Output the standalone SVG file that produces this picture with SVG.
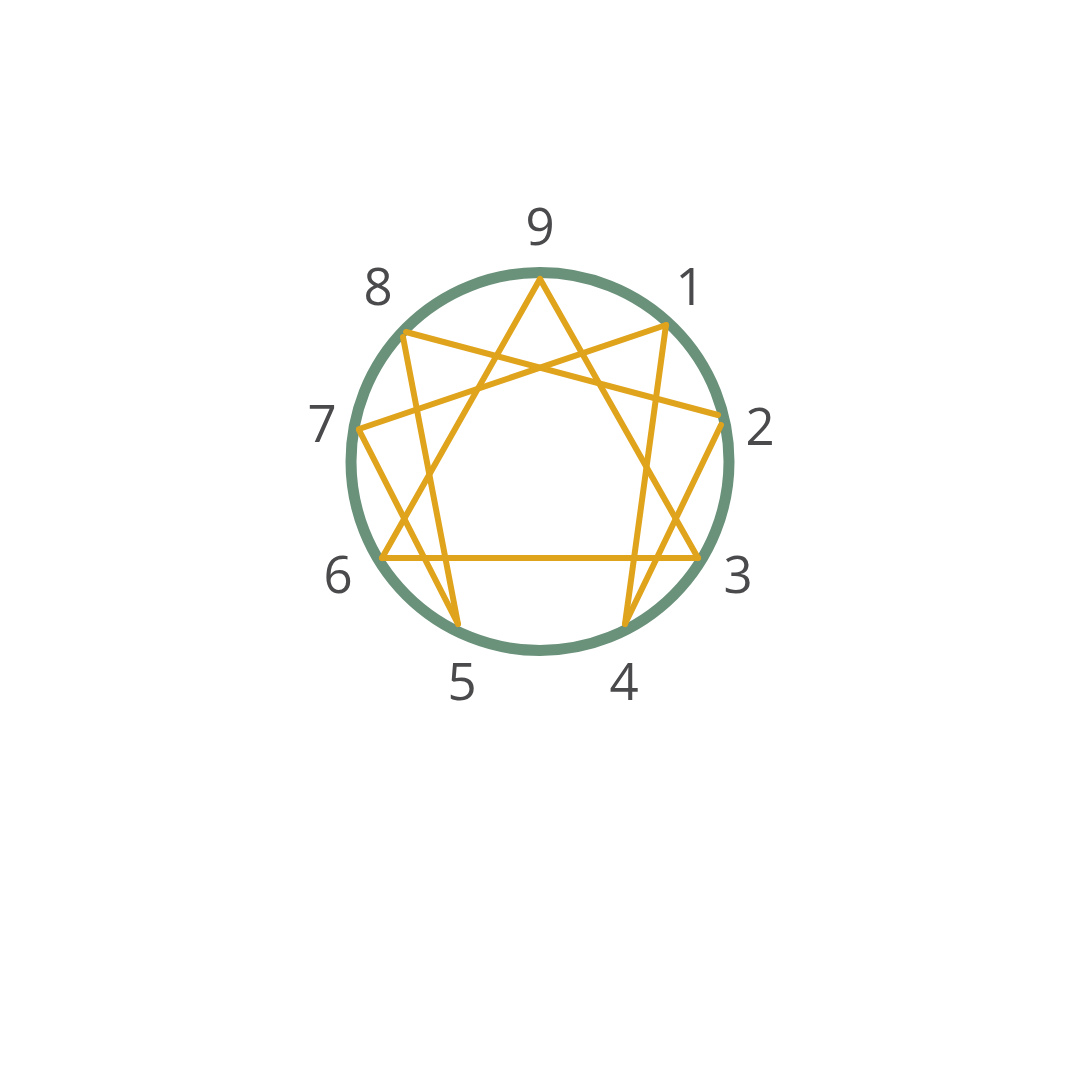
<svg xmlns="http://www.w3.org/2000/svg" width="1080" height="1080" viewBox="0 0 1080 1080">
<style>
.lbl{font-family:"Open Sans","Noto Sans","Liberation Sans",sans-serif;font-size:51px;fill:#4a4a4c;text-anchor:middle}
.ln{stroke:#e0a31c;stroke-width:6;stroke-linecap:round;fill:none}
.ring{stroke:#6a917a;stroke-width:11;fill:none}
</style>
<rect width="1080" height="1080" fill="#ffffff"/>
<g id="ring"><circle class="ring" cx="540" cy="461.5" r="189"/></g>
<g id="connectors">
<line class="ln" x1="540" y1="279" x2="698" y2="558"/>
<line class="ln" x1="698" y1="558" x2="382" y2="558"/>
<line class="ln" x1="382" y1="558" x2="540" y2="279"/>
<line class="ln" x1="666" y1="325" x2="625" y2="624"/>
<line class="ln" x1="625" y1="624" x2="721" y2="425"/>
<line class="ln" x1="718" y1="415" x2="406" y2="332"/>
<line class="ln" x1="403" y1="337" x2="458" y2="624"/>
<line class="ln" x1="458" y1="624" x2="359" y2="430"/>
<line class="ln" x1="359" y1="429" x2="666" y2="325"/>
</g>
<g id="n9"><text class="lbl" x="540" y="245">9</text></g>
<g id="n1"><text class="lbl" x="690" y="305">1</text></g>
<g id="n2"><text class="lbl" x="760" y="445">2</text></g>
<g id="n3"><text class="lbl" x="738" y="593">3</text></g>
<g id="n4"><text class="lbl" x="624" y="700">4</text></g>
<g id="n5"><text class="lbl" x="462" y="700">5</text></g>
<g id="n6"><text class="lbl" x="338" y="593">6</text></g>
<g id="n7"><text class="lbl" x="322" y="442">7</text></g>
<g id="n8"><text class="lbl" x="378" y="305">8</text></g>
</svg>
